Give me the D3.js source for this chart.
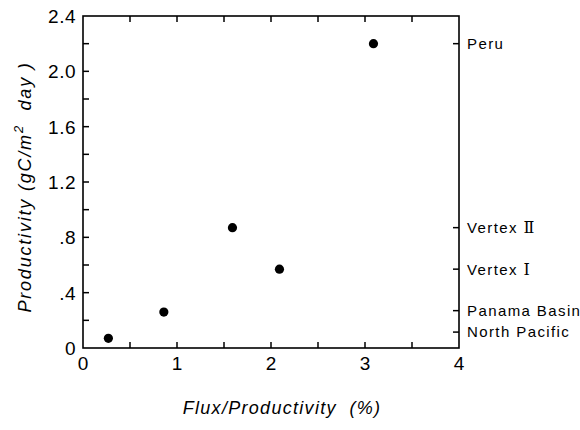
<!DOCTYPE html>
<html lang="en">
<head>
<meta charset="utf-8">
<title>Productivity vs flux</title>
<script src="https://cdn.jsdelivr.net/npm/d3@7"></script>
<style>
body { margin: 0; background: #fff; }
text { font-family: "Liberation Sans", Arial, sans-serif; fill: #000; white-space: pre; }
</style>
</head>
<body>
<script>
// data
var sites = ["North Pacific", "Panama Basin", "Vertex ", "Vertex ", "Peru"];
var numerals = ["", "", "\u2160", "\u2161", ""];
var fluxPct = [0.27, 0.86, 2.09, 1.59, 3.09];
var productivity = [0.07, 0.26, 0.57, 0.87, 2.2];
// right-hand label ticks sit a bit apart from the points at the bottom
var labelAt = [0.115, 0.27, 0.57, 0.87, 2.2];

var yTicks = [0, 0.4, 0.8, 1.2, 1.6, 2.0, 2.4];
var yTickLabels = ["0", ".4", ".8", "1.2", "1.6", "2.0", "2.4"];
var xTicks = [0, 1, 2, 3, 4];

var w = 580, h = 430;
var pLeft = 83, pRight = 459, pTop = 16, pBottom = 348;

var x = d3.scaleLinear().domain([0, 4]).range([pLeft, pRight]);
var y = d3.scaleLinear().domain([0, 2.4]).range([pBottom, pTop]);

var svg = d3.select("body").append("svg")
    .attr("width", w)
    .attr("height", h);

// frame
svg.append("rect")
    .attr("x", pLeft).attr("y", pTop)
    .attr("width", pRight - pLeft).attr("height", pBottom - pTop)
    .attr("fill", "none").attr("stroke", "#000").attr("stroke-width", 1.6);

var tl = 6;
var minorX = d3.range(0.5, 4, 0.5);
var minorY = d3.range(0.2, 2.39, 0.2);

// ticks on bottom and top, pointing in
svg.append("g").selectAll("line").data(minorX).enter().append("line")
    .attr("x1", function(d) { return x(d); }).attr("x2", function(d) { return x(d); })
    .attr("y1", pBottom).attr("y2", pBottom - tl)
    .attr("stroke", "#000").attr("stroke-width", 1.5);
svg.append("g").selectAll("line").data(minorX).enter().append("line")
    .attr("x1", function(d) { return x(d); }).attr("x2", function(d) { return x(d); })
    .attr("y1", pTop).attr("y2", pTop + tl)
    .attr("stroke", "#000").attr("stroke-width", 1.5);

// left ticks
svg.append("g").selectAll("line").data(minorY).enter().append("line")
    .attr("x1", pLeft).attr("x2", pLeft + tl)
    .attr("y1", function(d) { return y(d); }).attr("y2", function(d) { return y(d); })
    .attr("stroke", "#000").attr("stroke-width", 1.5);

// right ticks at the site labels
svg.append("g").selectAll("line").data(labelAt).enter().append("line")
    .attr("x1", pRight).attr("x2", pRight - tl)
    .attr("y1", function(d) { return y(d); }).attr("y2", function(d) { return y(d); })
    .attr("stroke", "#000").attr("stroke-width", 1.5);

// tick labels
svg.append("g").selectAll("text").data(yTicks).enter().append("text")
    .attr("x", pLeft - 7)
    .attr("y", function(d) { return y(d); })
    .attr("dy", "0.36em")
    .attr("text-anchor", "end")
    .attr("font-size", 19)
    .attr("letter-spacing", 0.5)
    .text(function(d, i) { return yTickLabels[i]; });

svg.append("g").selectAll("text").data(xTicks).enter().append("text")
    .attr("x", function(d) { return x(d); })
    .attr("y", pBottom + 15)
    .attr("dy", "0.36em")
    .attr("text-anchor", "middle")
    .attr("font-size", 19)
    .text(function(d) { return d; });

// site labels
var lab = svg.append("g").selectAll("text").data(sites).enter().append("text")
    .attr("x", pRight + 8)
    .attr("y", function(d, i) { return y(labelAt[i]); })
    .attr("dy", "0.36em")
    .attr("font-size", 15)
    .attr("letter-spacing", 1.4);
lab.append("tspan").text(function(d) { return d; });
lab.append("tspan")
    .attr("font-family", "DejaVu Serif")
    .attr("font-size", 16)
    .text(function(d, i) { return numerals[i]; });

// points
svg.append("g").selectAll("circle").data(sites).enter().append("circle")
    .attr("cx", function(d, i) { return x(fluxPct[i]); })
    .attr("cy", function(d, i) { return y(productivity[i]); })
    .attr("r", 4.6)
    .attr("fill", "#000");

// axis titles
svg.append("text")
    .attr("x", 282).attr("y", 414)
    .attr("text-anchor", "middle")
    .attr("font-size", 18)
    .attr("font-style", "italic")
    .attr("letter-spacing", 1.3)
    .text("Flux/Productivity  (%)");

var yt = svg.append("text")
    .attr("transform", "translate(31,187) rotate(-90)")
    .attr("text-anchor", "middle")
    .attr("font-size", 18)
    .attr("font-style", "italic")
    .attr("letter-spacing", 1.8);
yt.append("tspan").text("Productivity (gC/m");
yt.append("tspan").attr("dy", -8).attr("font-size", 13).text("2");
yt.append("tspan").attr("dy", 8).text("  day )");
</script>
</body>
</html>
